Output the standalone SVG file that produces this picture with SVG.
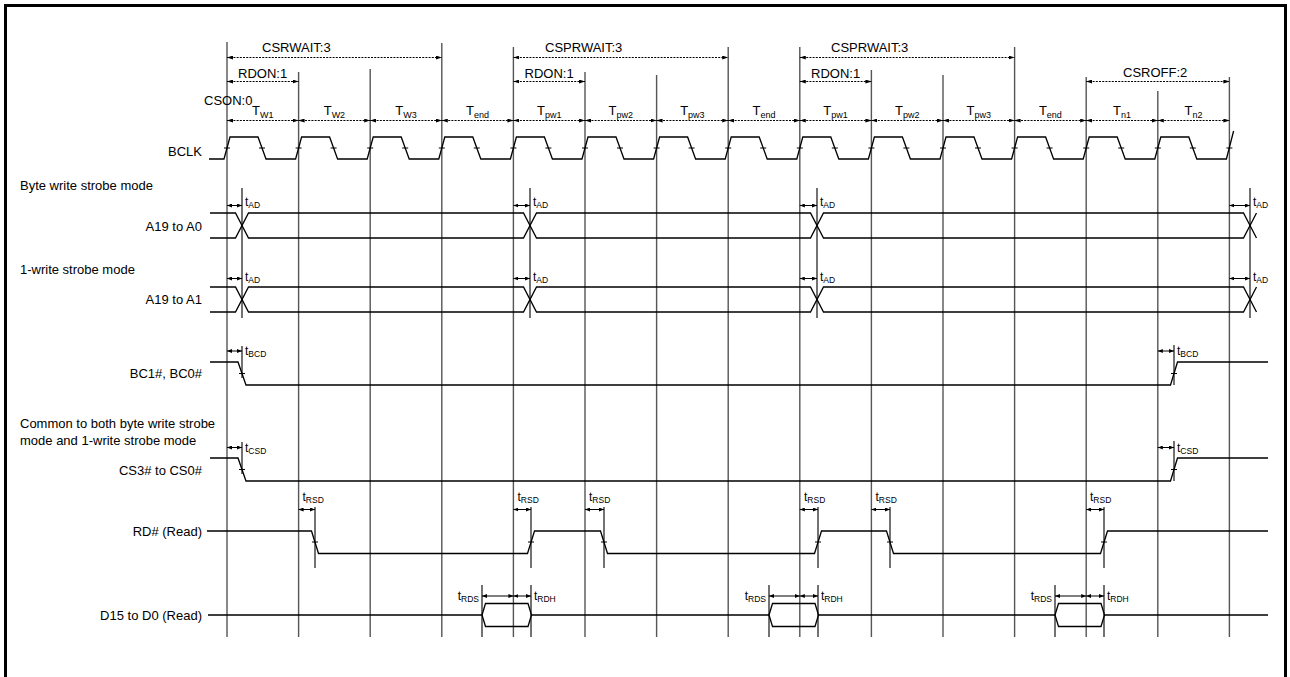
<svg xmlns="http://www.w3.org/2000/svg" width="1290" height="677" viewBox="0 0 1290 677">
<style>
text{font-family:"Liberation Sans",Arial,sans-serif;fill:#000}
.lbl{font-size:13px}
.end{text-anchor:end}
.mid{text-anchor:middle}
.t{font-size:12px}
.sub{font-size:8.5px}
.tsub{font-size:9px}
.grid{stroke:#555;stroke-width:1.4;fill:none}
.sig{stroke:#000;stroke-width:1.3;fill:none}
.tl{stroke:#000;stroke-width:1.1;fill:none}
.dash{stroke:#000;stroke-width:1.2;stroke-dasharray:2 1.2;fill:none;marker-start:url(#ah);marker-end:url(#ah)}
.arr{stroke:#000;stroke-width:1;fill:none;marker-start:url(#ah2);marker-end:url(#ah2)}
</style>
<defs>
<marker id="ah" viewBox="0 0 6 4" refX="6" refY="2" markerWidth="6" markerHeight="4" orient="auto-start-reverse" markerUnits="userSpaceOnUse"><path d="M0,0 L6,2 L0,4 z" fill="#000"/></marker>
<marker id="ah2" viewBox="0 0 5 4" refX="5" refY="2" markerWidth="5" markerHeight="4" orient="auto-start-reverse" markerUnits="userSpaceOnUse"><path d="M0,0 L5,2 L0,4 z" fill="#000"/></marker>
</defs>
<rect x="5.5" y="5.5" width="1280" height="700" fill="#fff" stroke="#000" stroke-width="3"/>

<g id="grid" class="grid">
<line x1="227" y1="42" x2="227" y2="637"/>
<line x1="298.6" y1="72" x2="298.6" y2="637"/>
<line x1="370.2" y1="69" x2="370.2" y2="637"/>
<line x1="441.8" y1="43" x2="441.8" y2="637"/>
<line x1="513.4" y1="47" x2="513.4" y2="637"/>
<line x1="585" y1="72" x2="585" y2="637"/>
<line x1="656.6" y1="75" x2="656.6" y2="637"/>
<line x1="728.2" y1="47" x2="728.2" y2="637"/>
<line x1="799.8" y1="47" x2="799.8" y2="637"/>
<line x1="871.4" y1="70" x2="871.4" y2="637"/>
<line x1="943" y1="75" x2="943" y2="637"/>
<line x1="1014.6" y1="47" x2="1014.6" y2="637"/>
<line x1="1086.2" y1="77" x2="1086.2" y2="637"/>
<line x1="1157.8" y1="91" x2="1157.8" y2="637"/>
<line x1="1229.4" y1="77" x2="1229.4" y2="637"/>
</g>

<g id="cycle-annotations">
<line class="dash" x1="227" y1="57.5" x2="441.8" y2="57.5"/>
<text class="lbl" x="262" y="51.5">CSRWAIT:3</text>
<line class="dash" x1="513.4" y1="57.5" x2="728.2" y2="57.5"/>
<text class="lbl" x="545" y="51.5">CSPRWAIT:3</text>
<line class="dash" x1="799.8" y1="57.5" x2="1014.6" y2="57.5"/>
<text class="lbl" x="831" y="51.5">CSPRWAIT:3</text>
<line class="dash" x1="227" y1="81.5" x2="298.6" y2="81.5"/>
<text class="lbl" x="238" y="78">RDON:1</text>
<line class="dash" x1="513.4" y1="81.5" x2="585" y2="81.5"/>
<text class="lbl" x="524.5" y="78">RDON:1</text>
<line class="dash" x1="799.8" y1="81.5" x2="871.4" y2="81.5"/>
<text class="lbl" x="811" y="78">RDON:1</text>
<line class="dash" x1="1086.2" y1="81.5" x2="1229.4" y2="81.5"/>
<text class="lbl" x="1123" y="76.5">CSROFF:2</text>
<text class="lbl" x="204" y="104.5">CSON:0</text>
</g>

<g id="states">
<line class="dash" x1="227" y1="120.5" x2="298.6" y2="120.5"/>
<line class="dash" x1="298.6" y1="120.5" x2="370.2" y2="120.5"/>
<line class="dash" x1="370.2" y1="120.5" x2="441.8" y2="120.5"/>
<line class="dash" x1="441.8" y1="120.5" x2="513.4" y2="120.5"/>
<line class="dash" x1="513.4" y1="120.5" x2="585" y2="120.5"/>
<line class="dash" x1="585" y1="120.5" x2="656.6" y2="120.5"/>
<line class="dash" x1="656.6" y1="120.5" x2="728.2" y2="120.5"/>
<line class="dash" x1="728.2" y1="120.5" x2="799.8" y2="120.5"/>
<line class="dash" x1="799.8" y1="120.5" x2="871.4" y2="120.5"/>
<line class="dash" x1="871.4" y1="120.5" x2="943" y2="120.5"/>
<line class="dash" x1="943" y1="120.5" x2="1014.6" y2="120.5"/>
<line class="dash" x1="1014.6" y1="120.5" x2="1086.2" y2="120.5"/>
<line class="dash" x1="1086.2" y1="120.5" x2="1157.8" y2="120.5"/>
<line class="dash" x1="1157.8" y1="120.5" x2="1229.4" y2="120.5"/>
<text class="lbl mid" x="262.8" y="114.5">T<tspan class="tsub" dy="3">W1</tspan></text>
<text class="lbl mid" x="334.4" y="114.5">T<tspan class="tsub" dy="3">W2</tspan></text>
<text class="lbl mid" x="406" y="114.5">T<tspan class="tsub" dy="3">W3</tspan></text>
<text class="lbl mid" x="477.6" y="114.5">T<tspan class="tsub" dy="3">end</tspan></text>
<text class="lbl mid" x="549.2" y="114.5">T<tspan class="tsub" dy="3">pw1</tspan></text>
<text class="lbl mid" x="620.8" y="114.5">T<tspan class="tsub" dy="3">pw2</tspan></text>
<text class="lbl mid" x="692.4" y="114.5">T<tspan class="tsub" dy="3">pw3</tspan></text>
<text class="lbl mid" x="764" y="114.5">T<tspan class="tsub" dy="3">end</tspan></text>
<text class="lbl mid" x="835.6" y="114.5">T<tspan class="tsub" dy="3">pw1</tspan></text>
<text class="lbl mid" x="907.2" y="114.5">T<tspan class="tsub" dy="3">pw2</tspan></text>
<text class="lbl mid" x="978.8" y="114.5">T<tspan class="tsub" dy="3">pw3</tspan></text>
<text class="lbl mid" x="1050.4" y="114.5">T<tspan class="tsub" dy="3">end</tspan></text>
<text class="lbl mid" x="1122" y="114.5">T<tspan class="tsub" dy="3">n1</tspan></text>
<text class="lbl mid" x="1193.6" y="114.5">T<tspan class="tsub" dy="3">n2</tspan></text>
</g>

<g id="bclk">
<text class="lbl end" x="202" y="155.5">BCLK</text>
<path class="sig" d="M209,159 H224 L230,137 H258 L266,159 H295.6 L301.6,137 H329.6 L337.6,159 H367.2 L373.2,137 H401.2 L409.2,159 H438.8 L444.8,137 H472.8 L480.8,159 H510.4 L516.4,137 H544.4 L552.4,159 H582 L588,137 H616 L624,159 H653.6 L659.6,137 H687.6 L695.6,159 H725.2 L731.2,137 H759.2 L767.2,159 H796.8 L802.8,137 H830.8 L838.8,159 H868.4 L874.4,137 H902.4 L910.4,159 H940 L946,137 H974 L982,159 H1011.6 L1017.6,137 H1045.6 L1053.6,159 H1083.2 L1089.2,137 H1117.2 L1125.2,159 H1154.8 L1160.8,137 H1188.8 L1196.8,159 H1226.4 L1233.6,131"/>
<path class="tl" d="M224,148 h6 M259,148 h6 M295.6,148 h6 M330.6,148 h6 M367.2,148 h6 M402.2,148 h6 M438.8,148 h6 M473.8,148 h6 M510.4,148 h6 M545.4,148 h6 M582,148 h6 M617,148 h6 M653.6,148 h6 M688.6,148 h6 M725.2,148 h6 M760.2,148 h6 M796.8,148 h6 M831.8,148 h6 M868.4,148 h6 M903.4,148 h6 M940,148 h6 M975,148 h6 M1011.6,148 h6 M1046.6,148 h6 M1083.2,148 h6 M1118.2,148 h6 M1154.8,148 h6 M1189.8,148 h6 M1226.4,148 h6"/>
</g>

<g id="addr">
<text class="lbl" x="20" y="189.5">Byte write strobe mode</text>
<text class="lbl end" x="202" y="230.5">A19 to A0</text>
<path class="sig" d="M210,213 H235.5 L248.5,238 H523.5 L536.5,213 H810.5 L823.5,238 H1243.5 L1256.5,213"/>
<path class="sig" d="M210,238 H235.5 L248.5,213 H523.5 L536.5,238 H810.5 L823.5,213 H1243.5 L1256.5,238"/>
<text class="lbl" x="20" y="273.5">1-write strobe mode</text>
<text class="lbl end" x="202" y="303.5">A19 to A1</text>
<path class="sig" d="M210,287 H235.5 L248.5,312 H523.5 L536.5,287 H810.5 L823.5,312 H1243.5 L1256.5,287"/>
<path class="sig" d="M210,312 H235.5 L248.5,287 H523.5 L536.5,312 H810.5 L823.5,287 H1243.5 L1256.5,312"/>
<path class="tl" d="M242,188 V318 M530,188 V318 M817,188 V318 M1250,188 V318"/>
<line class="arr" x1="227" y1="205.5" x2="242" y2="205.5"/>
<line class="arr" x1="513.4" y1="205.5" x2="530" y2="205.5"/>
<line class="arr" x1="799.8" y1="205.5" x2="817" y2="205.5"/>
<line class="arr" x1="1229.4" y1="205.5" x2="1250" y2="205.5"/>
<line class="arr" x1="227" y1="278.5" x2="242" y2="278.5"/>
<line class="arr" x1="513.4" y1="278.5" x2="530" y2="278.5"/>
<line class="arr" x1="799.8" y1="278.5" x2="817" y2="278.5"/>
<line class="arr" x1="1229.4" y1="278.5" x2="1250" y2="278.5"/>
<text class="t" x="245" y="206">t<tspan class="sub" dy="2">AD</tspan></text>
<text class="t" x="533" y="206">t<tspan class="sub" dy="2">AD</tspan></text>
<text class="t" x="820" y="206">t<tspan class="sub" dy="2">AD</tspan></text>
<text class="t" x="1253" y="206">t<tspan class="sub" dy="2">AD</tspan></text>
<text class="t" x="245" y="281">t<tspan class="sub" dy="2">AD</tspan></text>
<text class="t" x="533" y="281">t<tspan class="sub" dy="2">AD</tspan></text>
<text class="t" x="820" y="281">t<tspan class="sub" dy="2">AD</tspan></text>
<text class="t" x="1253" y="281">t<tspan class="sub" dy="2">AD</tspan></text>
</g>

<g id="bc">
<text class="lbl end" x="202" y="377.5">BC1#, BC0#</text>
<path class="sig" d="M210,362 H238 L246,385 H1170.5 L1177.5,362 H1268"/>
<path class="tl" d="M242,346 V378 M239,373.5 h6 M1174,345 V385 M1171,373.5 h6"/>
<line class="arr" x1="227" y1="351" x2="242" y2="351"/>
<line class="arr" x1="1157.8" y1="351" x2="1174" y2="351"/>
<text class="t" x="245" y="355">t<tspan class="sub" dy="2">BCD</tspan></text>
<text class="t" x="1177" y="355">t<tspan class="sub" dy="2">BCD</tspan></text>
</g>

<g id="cs">
<text class="lbl" x="20" y="427.5">Common to both byte write strobe</text>
<text class="lbl" x="20" y="444.5">mode and 1-write strobe mode</text>
<text class="lbl end" x="202" y="474.5">CS3# to CS0#</text>
<path class="sig" d="M210,458 H238 L246,481 H1170.5 L1177.5,458 H1268"/>
<path class="tl" d="M242,442 V474 M239,469.5 h6 M1174,441 V481 M1171,469.5 h6"/>
<line class="arr" x1="227" y1="447.5" x2="242" y2="447.5"/>
<line class="arr" x1="1157.8" y1="447.5" x2="1174" y2="447.5"/>
<text class="t" x="245" y="451.5">t<tspan class="sub" dy="2">CSD</tspan></text>
<text class="t" x="1177" y="451.5">t<tspan class="sub" dy="2">CSD</tspan></text>
</g>

<g id="rd">
<text class="lbl end" x="202" y="535.5">RD# (Read)</text>
<path class="sig" d="M207,531 H311.5 L318.5,553.5 H527.5 L534.5,531 H600.5 L607.5,553.5 H814.5 L821.5,531 H886.5 L893.5,553.5 H1100.5 L1107.5,531 H1268"/>
<path class="tl" d="M315,507 V568 M531,507 V568 M604,507 V568 M818,507 V568 M890,507 V568 M1104,507 V568 M312,542 h6 M528,542 h6 M601,542 h6 M815,542 h6 M887,542 h6 M1101,542 h6"/>
<line class="arr" x1="298.6" y1="509.5" x2="315" y2="509.5"/>
<line class="arr" x1="513.4" y1="509.5" x2="531" y2="509.5"/>
<line class="arr" x1="585" y1="509.5" x2="604" y2="509.5"/>
<line class="arr" x1="799.8" y1="509.5" x2="818" y2="509.5"/>
<line class="arr" x1="871.4" y1="509.5" x2="890" y2="509.5"/>
<line class="arr" x1="1086.2" y1="509.5" x2="1104" y2="509.5"/>
<text class="t" x="302.5" y="500.5">t<tspan class="sub" dy="2">RSD</tspan></text>
<text class="t" x="517.5" y="500.5">t<tspan class="sub" dy="2">RSD</tspan></text>
<text class="t" x="589" y="500.5">t<tspan class="sub" dy="2">RSD</tspan></text>
<text class="t" x="804" y="500.5">t<tspan class="sub" dy="2">RSD</tspan></text>
<text class="t" x="875.5" y="500.5">t<tspan class="sub" dy="2">RSD</tspan></text>
<text class="t" x="1090" y="500.5">t<tspan class="sub" dy="2">RSD</tspan></text>
</g>

<g id="data">
<text class="lbl end" x="202" y="619.5">D15 to D0 (Read)</text>
<path class="sig" d="M208,615 H482 M531.5,615 H769 M818.5,615 H1055 M1104.5,615 H1268"/>
<path class="sig" d="M482,615 L485.5,603.5 H528 L531.5,615 L528,626.5 H485.5 Z"/>
<path class="sig" d="M769,615 L772.5,603.5 H815 L818.5,615 L815,626.5 H772.5 Z"/>
<path class="sig" d="M1055,615 L1058.5,603.5 H1101 L1104.5,615 L1101,626.5 H1058.5 Z"/>
<path class="tl" d="M482,585 V637 M531,585 V637 M769,585 V637 M818,585 V637 M1055,585 V637 M1104,585 V637"/>
<line class="arr" x1="482" y1="596" x2="513.4" y2="596"/>
<line class="arr" x1="513.4" y1="596" x2="531" y2="596"/>
<line class="arr" x1="769" y1="596" x2="799.8" y2="596"/>
<line class="arr" x1="799.8" y1="596" x2="818" y2="596"/>
<line class="arr" x1="1055" y1="596" x2="1086.2" y2="596"/>
<line class="arr" x1="1086.2" y1="596" x2="1104" y2="596"/>
<text class="t end" x="479" y="600">t<tspan class="sub" dy="2">RDS</tspan></text>
<text class="t" x="534" y="600">t<tspan class="sub" dy="2">RDH</tspan></text>
<text class="t end" x="766" y="600">t<tspan class="sub" dy="2">RDS</tspan></text>
<text class="t" x="821" y="600">t<tspan class="sub" dy="2">RDH</tspan></text>
<text class="t end" x="1052" y="600">t<tspan class="sub" dy="2">RDS</tspan></text>
<text class="t" x="1107" y="600">t<tspan class="sub" dy="2">RDH</tspan></text>
</g>
</svg>
